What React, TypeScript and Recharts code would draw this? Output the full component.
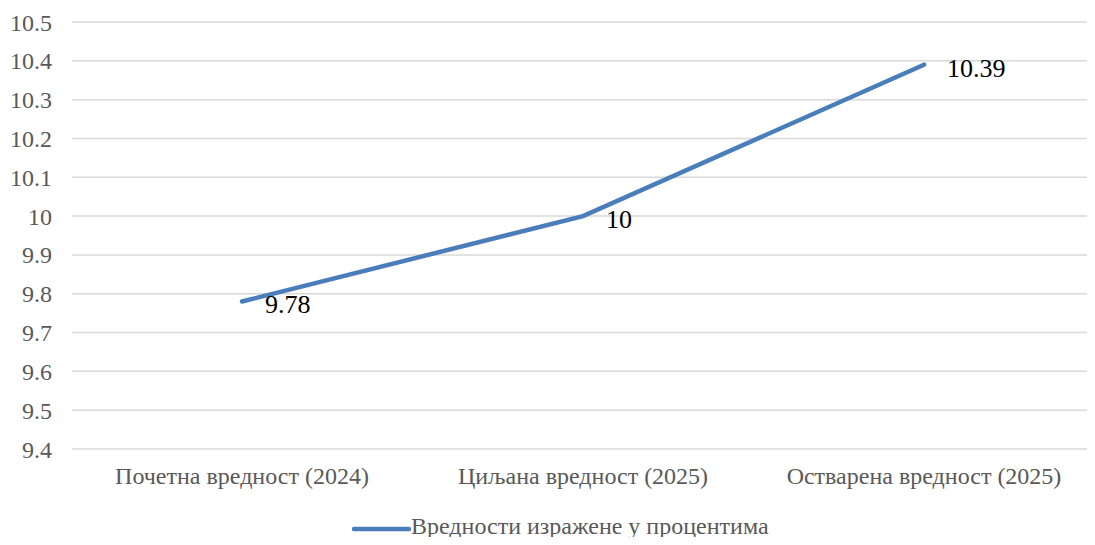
import { LineChart, Line, XAxis, YAxis, CartesianGrid, Legend, LabelList } from 'recharts';

const categories = ['Почетна вредност (2024)', 'Циљана вредност (2025)', 'Остварена вредност (2025)'];
const values = [9.78, 10, 10.39];
const yTicks = [9.4, 9.5, 9.6, 9.7, 9.8, 9.9, 10, 10.1, 10.2, 10.3, 10.4, 10.5];
const seriesName = 'Вредности изражене у процентима';

const data = categories.map((name, i) => ({ name, value: values[i] }));

const FONT = 'Liberation Serif';
const LINE_COLOR = '#4a7ebb';

const renderLabel = (props: any) => {
  const { x, y, value } = props;
  return (
    <text x={x + 23} y={y + 12} fontSize={26} style={{ fontFamily: FONT }} fill="#000">
      {value}
    </text>
  );
};

const renderLegend = () => (
  <div
    style={{
      height: 30,
      boxSizing: 'border-box',
      paddingBottom: 8,
      display: 'flex',
      alignItems: 'center',
      paddingLeft: 352,
      fontFamily: FONT,
      fontSize: 24,
      lineHeight: 1,
      color: '#595959',
      whiteSpace: 'nowrap',
    }}
  >
    <svg width={59} height={10} style={{ display: 'block', position: 'relative', top: 3 }}>
      <line x1={2} y1={5} x2={57} y2={5} stroke={LINE_COLOR} strokeWidth={4.5} strokeLinecap="round" />
    </svg>
    <span>{seriesName}</span>
  </div>
);

const tickStyle = { fontSize: 24, fill: '#595959', style: { fontFamily: FONT } };

export default function App() {
  return (
    <div style={{ margin: -8, width: 1095, height: 545, background: '#fff', fontFamily: FONT }}>
      <LineChart width={1095} height={545} data={data} margin={{ top: 22, right: 1, left: 0, bottom: 0 }}>
        <CartesianGrid vertical={false} stroke="#d9d9d9" strokeWidth={1.5} />
        <XAxis
          dataKey="name"
          axisLine={false}
          tickLine={false}
          tickSize={0}
          tickMargin={18}
          height={66}
          interval={0}
          padding={{ left: 170, right: 170 }}
          tick={tickStyle}
        />
        <YAxis
          domain={[9.4, 10.5]}
          ticks={yTicks}
          axisLine={false}
          tickLine={false}
          tickSize={0}
          tickMargin={20}
          width={72}
          tick={tickStyle}
        />
        <Legend verticalAlign="bottom" align="left" content={renderLegend} wrapperStyle={{ width: 1095, left: 0 }} />
        <Line
          type="linear"
          dataKey="value"
          name={seriesName}
          stroke={LINE_COLOR}
          strokeWidth={4.5}
          strokeLinecap="round"
          dot={false}
          activeDot={false}
          isAnimationActive={false}
        >
          <LabelList dataKey="value" content={renderLabel} />
        </Line>
      </LineChart>
    </div>
  );
}
